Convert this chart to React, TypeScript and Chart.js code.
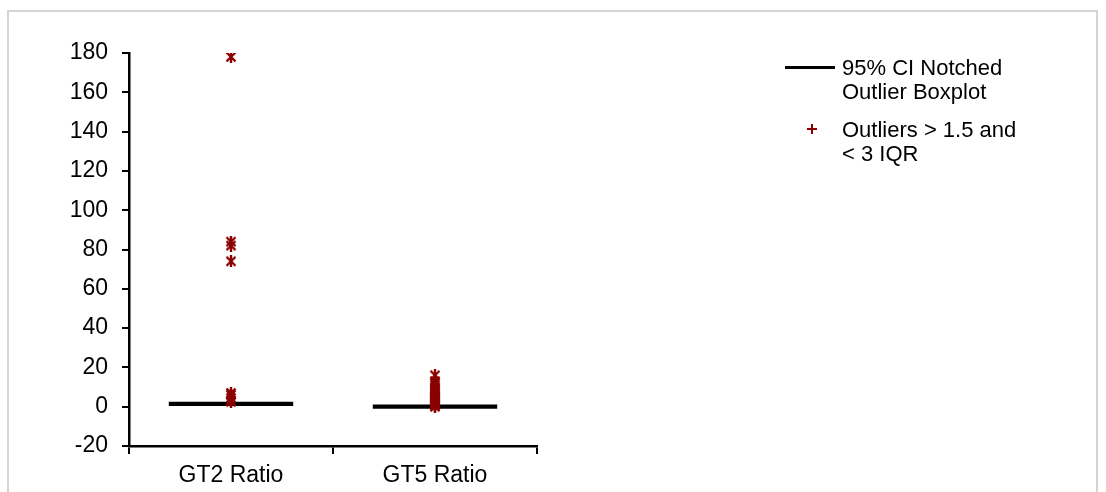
import React, { useEffect, useRef } from 'react';
import { Chart, registerables } from 'chart.js';

Chart.register(...registerables);

// ---- data ----
const categories = ['GT2 Ratio', 'GT5 Ratio'];
// collapsed notched boxes (drawn as thick horizontal bars)
const boxLow = [0.3, -1.1];
const boxHigh = [2.5, 1.1];
// outliers
const gt2Outliers = [178, 84, 82, 74, 7, 6, 4.5, 3, 2.5];
const gt5Outliers = [16, 13, 12, 11, 10, 9, 8, 7, 6, 5.5, 5, 4.5, 4, 3.5, 3, 2.5, 2, 1.5, 1, 0.5, 0];
const yMin = -20;
const yMax = 180;
const yStep = 20;
const legendBoxLines = ['95% CI Notched', 'Outlier Boxplot'];
const legendOutlierLines = ['Outliers > 1.5 and', '< 3 IQR'];

const MAROON = '#8B0000';
const FONT = '"Liberation Sans", Arial, sans-serif';

function makeStar(): HTMLCanvasElement {
  const c = document.createElement('canvas');
  c.width = 12;
  c.height = 12;
  const ctx = c.getContext('2d')!;
  ctx.strokeStyle = MAROON;
  ctx.lineWidth = 2.4;
  ctx.lineCap = 'butt';
  ctx.beginPath();
  ctx.moveTo(1.5, 1.5);
  ctx.lineTo(10.5, 10.5);
  ctx.moveTo(10.5, 1.5);
  ctx.lineTo(1.5, 10.5);
  ctx.moveTo(6, 0);
  ctx.lineTo(6, 12);
  ctx.stroke();
  return c;
}

export default function App() {
  const ref = useRef<HTMLCanvasElement | null>(null);

  useEffect(() => {
    if (!ref.current) return;
    const star = makeStar();
    const outlierData = [
      ...gt2Outliers.map((y) => ({ x: categories[0], y })),
      ...gt5Outliers.map((y) => ({ x: categories[1], y })),
    ];
    const chart = new Chart(ref.current, {
      type: 'bar',
      data: {
        labels: categories,
        datasets: [
          {
            type: 'line',
            label: 'Outliers > 1.5 and < 3 IQR',
            data: outlierData as any,
            showLine: false,
            pointStyle: star as any,
            pointRadius: 6,
            order: 0,
          } as any,
          {
            type: 'bar',
            label: '95% CI Notched Outlier Boxplot',
            data: categories.map((_, i) => [boxLow[i], boxHigh[i]]) as any,
            backgroundColor: '#000',
            borderWidth: 0,
            barPercentage: 0.61,
            categoryPercentage: 1,
            order: 1,
          },
        ],
      },
      options: {
        responsive: false,
        animation: false,
        devicePixelRatio: 1,
        layout: { padding: { left: 0, top: 53, right: 569, bottom: 0 } },
        plugins: { legend: { display: false }, tooltip: { enabled: false } },
        events: [],
        scales: {
          x: {
            type: 'category',
            offset: true,
            grid: {
              offset: true,
              drawOnChartArea: false,
              drawTicks: true,
              tickLength: 8,
              color: '#000',
              lineWidth: 2,
            },
            border: { display: true, color: '#000', width: 2.5 },
            ticks: { font: { family: FONT, size: 23 }, color: '#000', padding: 8, maxRotation: 0 },
            afterFit: (s: any) => {
              s.height = 46;
            },
          },
          y: {
            min: yMin,
            max: yMax,
            ticks: { stepSize: yStep, padding: 14, font: { family: FONT, size: 23 }, color: '#000' },
            grid: { drawOnChartArea: false, tickLength: 7, color: '#000', lineWidth: 2 },
            border: { display: true, color: '#000', width: 2.5 },
            afterFit: (s: any) => {
              s.width = 129;
            },
          },
        },
      } as any,
    });
    return () => chart.destroy();
  }, []);

  const textStyle: React.CSSProperties = {
    position: 'absolute',
    left: 842,
    fontFamily: FONT,
    fontSize: 22,
    lineHeight: '24px',
    color: '#000',
    whiteSpace: 'nowrap',
  };

  return (
    <div style={{ position: 'absolute', left: 0, top: 0, width: 1106, height: 492, overflow: 'hidden', background: '#fff' }}>
      <div
        style={{
          position: 'absolute',
          left: 7,
          top: 10,
          width: 1091,
          height: 482,
          boxSizing: 'border-box',
          border: '2px solid #d4d4d4',
          borderBottom: 'none',
        }}
      />
      <canvas ref={ref} width={1106} height={492} style={{ position: 'absolute', left: 0, top: 0 }} />
      {/* legend */}
      <div style={{ position: 'absolute', left: 785, top: 66, width: 50, height: 3, background: '#000' }} />
      <div style={{ ...textStyle, top: 56 }}>
        {legendBoxLines.map((t) => (
          <div key={t}>{t}</div>
        ))}
      </div>
      <div style={{ position: 'absolute', left: 807, top: 128, width: 10, height: 2, background: MAROON }} />
      <div style={{ position: 'absolute', left: 811, top: 124, width: 2, height: 10, background: MAROON }} />
      <div style={{ ...textStyle, top: 118 }}>
        {legendOutlierLines.map((t) => (
          <div key={t}>{t}</div>
        ))}
      </div>
    </div>
  );
}
